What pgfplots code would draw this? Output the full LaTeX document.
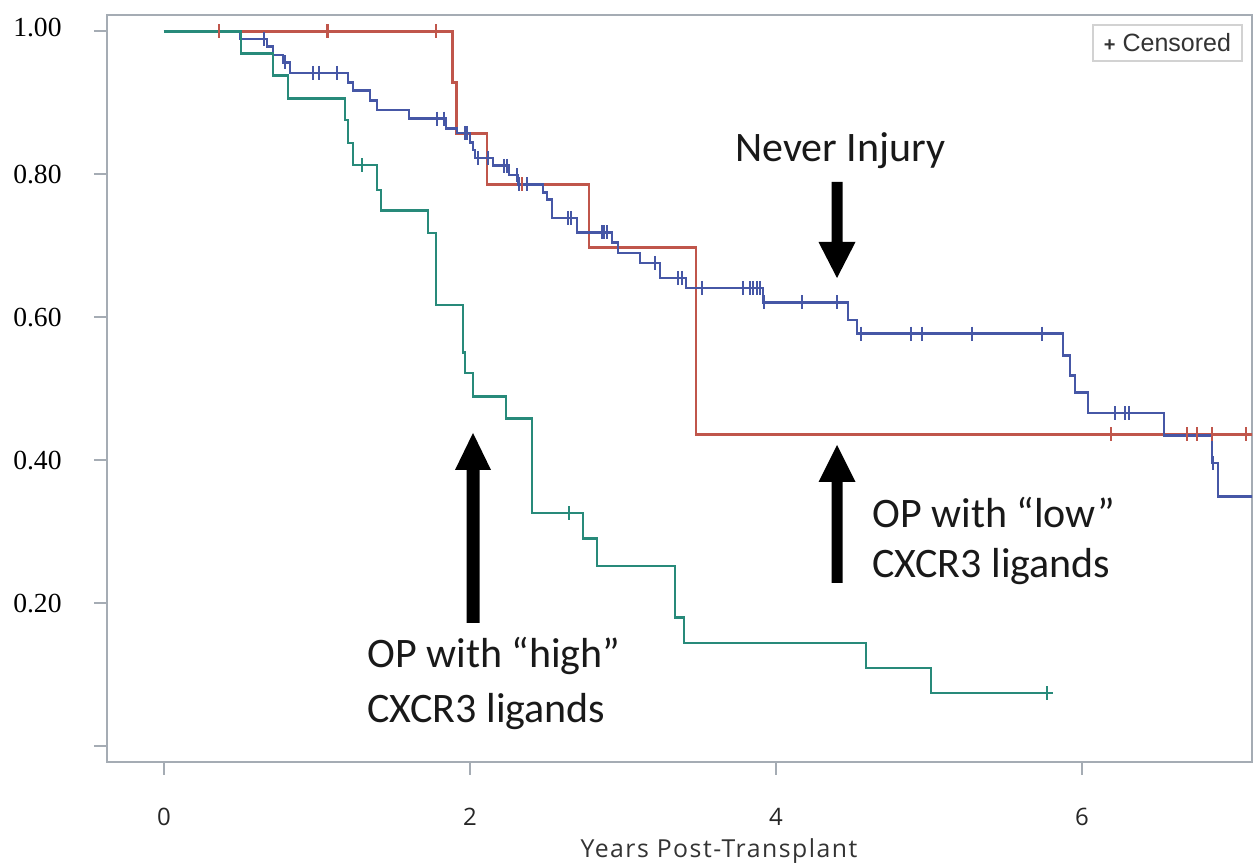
\documentclass[border=0pt]{standalone}
\usepackage{fontspec}
\setmainfont{Carlito}
\newfontfamily\tickserif{Liberation Serif}
\newfontfamily\segoe{Open Sans}
\newfontfamily\segoewide{Open Sans}[LetterSpace=6]
\newfontfamily\arialf{Liberation Sans}
\usepackage{pgfplots}
\pgfplotsset{compat=1.18}

\definecolor{kmred}{RGB}{192,86,75}
\definecolor{kmblue}{RGB}{70,87,166}
\definecolor{kmteal}{RGB}{40,138,122}
\definecolor{framegray}{RGB}{165,172,180}

\begin{document}
\begin{tikzpicture}
\path[use as bounding box] (-53.5pt,-51.5pt) rectangle (576pt,381pt);
\begin{axis}[
    at={(0,0)}, anchor=south west,
    scale only axis, width=572.5pt, height=373.5pt,
    xmin=-0.3725, xmax=7.111, ymin=-0.0224, ymax=1.0231,
    axis line style={framegray, line width=1pt},
    tick style={framegray, line width=1pt},
    tick align=outside, major tick length=6.5pt,
    tick pos=left,
    xtick={0,2,4,6}, xticklabels={0,2,4,6},
    ytick={0,0.2,0.4,0.6,0.8,1.0},
    yticklabels={,0.20,0.40,0.60,0.80,\raisebox{4.5pt}{1.00}},
    xticklabel style={font=\segoe\fontsize{12}{14}\selectfont, text=black!85,
        anchor=center, inner sep=0pt, yshift=-21pt},
    yticklabel style={font=\tickserif\fontsize{13.8}{16}\selectfont,
        anchor=east, inner sep=0pt, xshift=-16pt},
    xlabel={Years Post-Transplant},
    xlabel style={font=\segoewide\fontsize{12.4}{14}\selectfont, text=black!80,
        at={(axis description cs:0.5345,0)}, anchor=base, yshift=-48pt},
    every axis plot/.append style={line width=1.35pt},
    const plot,
]
% OP with "low" CXCR3 ligands
\addplot[kmred, no marks] coordinates {
  (0,1) (1.887,0.929) (1.913,0.857) (2.111,0.786) (2.778,0.698)
  (3.477,0.436) (7.2,0.436)
};
% Never Injury
\addplot[kmblue, no marks] coordinates {
  (0,1) (0.501,0.9895) (0.673,0.979) (0.712,0.967) (0.778,0.957)
  (0.824,0.942) (1.203,0.929) (1.235,0.917) (1.346,0.903) (1.392,0.890)
  (1.601,0.878) (1.843,0.864) (1.915,0.858) (2.000,0.845) (2.020,0.834)
  (2.033,0.823) (2.150,0.812) (2.255,0.799) (2.314,0.786) (2.477,0.775)
  (2.503,0.765) (2.536,0.739) (2.699,0.719) (2.928,0.705) (2.967,0.690)
  (3.111,0.676) (3.242,0.655) (3.412,0.641) (3.915,0.621) (4.471,0.596)
  (4.529,0.577) (5.876,0.547) (5.922,0.519) (5.954,0.495) (6.039,0.466)
  (6.536,0.435) (6.850,0.396) (6.889,0.349) (7.2,0.349)
};
% OP with "high" CXCR3 ligands
\addplot[kmteal, no marks] coordinates {
  (0,1) (0.503,0.969) (0.712,0.938) (0.810,0.906) (1.183,0.876)
  (1.203,0.844) (1.235,0.813) (1.392,0.778) (1.418,0.749) (1.725,0.718)
  (1.778,0.617) (1.954,0.551) (1.967,0.522) (2.020,0.489) (2.235,0.458)
  (2.405,0.326) (2.739,0.290) (2.830,0.252) (3.340,0.180) (3.399,0.144)
  (4.588,0.109) (5.013,0.074) (5.810,0.074)
};
% censored observations
\addplot[kmred, only marks, mark=|, mark size=3.5pt, mark options={line width=1.1pt}] coordinates {
  (0.359,1) (1.069,1) (1.778,1) (2.340,0.786) (6.190,0.436) (6.686,0.436)
  (6.752,0.436) (6.850,0.436) (7.072,0.436)
};
\addplot[kmblue, only marks, mark=|, mark size=3.5pt, mark options={line width=1.1pt}] coordinates {
  (0.654,0.9895) (0.791,0.957) (0.974,0.942) (1.013,0.942) (1.131,0.942)
  (1.784,0.878) (1.830,0.878) (1.967,0.858) (1.980,0.858) (2.052,0.823)
  (2.118,0.823) (2.222,0.812) (2.242,0.812) (2.307,0.799) (2.320,0.786)
  (2.373,0.786) (2.641,0.739) (2.660,0.739) (2.863,0.719) (2.876,0.719)
  (2.895,0.719) (3.209,0.676) (3.359,0.655) (3.386,0.655) (3.516,0.641)
  (3.784,0.641) (3.830,0.641) (3.850,0.641) (3.876,0.641) (3.895,0.641)
  (3.922,0.621) (4.170,0.621) (4.399,0.621) (4.556,0.577) (4.882,0.577)
  (4.954,0.577) (5.281,0.577) (5.739,0.577) (6.216,0.466) (6.281,0.466)
  (6.307,0.466) (6.856,0.396)
};
\addplot[kmteal, only marks, mark=|, mark size=3.5pt, mark options={line width=1.1pt}] coordinates {
  (1.294,0.813) (2.647,0.326) (5.771,0.074)
};
\end{axis}

% legend box
\draw[gray!35, line width=0.8pt] (493pt,350.5pt) rectangle (567.5pt,368.5pt);
\node[font=\arialf\fontsize{12.5}{14}\selectfont, text=black!80, inner sep=0pt]
  at (530.25pt,359.5pt) {{\fontsize{10}{10}\selectfont\textbf{+}} Censored};

% annotations
\begin{scope}[font=\fontsize{21}{24}\selectfont, text=black!90]
\node[anchor=base west, inner sep=0pt] at (314pt,300pt) {Never Injury};
\node[anchor=base west, inner sep=0pt] at (130pt,47pt) {OP with “high”};
\node[anchor=base west, inner sep=0pt] at (130pt,19.5pt) {CXCR3 ligands};
\node[anchor=base west, inner sep=0pt] at (382.5pt,117pt) {OP with “low”};
\node[anchor=base west, inner sep=0pt] at (382.5pt,92pt) {CXCR3 ligands};
\end{scope}

% arrows
\fill[black] (362.25pt,290pt) -- (367.75pt,290pt) -- (367.75pt,260pt) -- (374.25pt,260pt)
  -- (365pt,242pt) -- (355.75pt,260pt) -- (362.25pt,260pt) -- cycle;
\fill[black] (362.25pt,89.5pt) -- (367.75pt,89.5pt) -- (367.75pt,140pt) -- (374.25pt,140pt)
  -- (365pt,158.5pt) -- (355.75pt,140pt) -- (362.25pt,140pt) -- cycle;
\fill[black] (179.75pt,69.5pt) -- (186.25pt,69.5pt) -- (186.25pt,146pt) -- (192pt,146pt)
  -- (183pt,164.5pt) -- (174pt,146pt) -- (179.75pt,146pt) -- cycle;
\end{tikzpicture}
\end{document}
